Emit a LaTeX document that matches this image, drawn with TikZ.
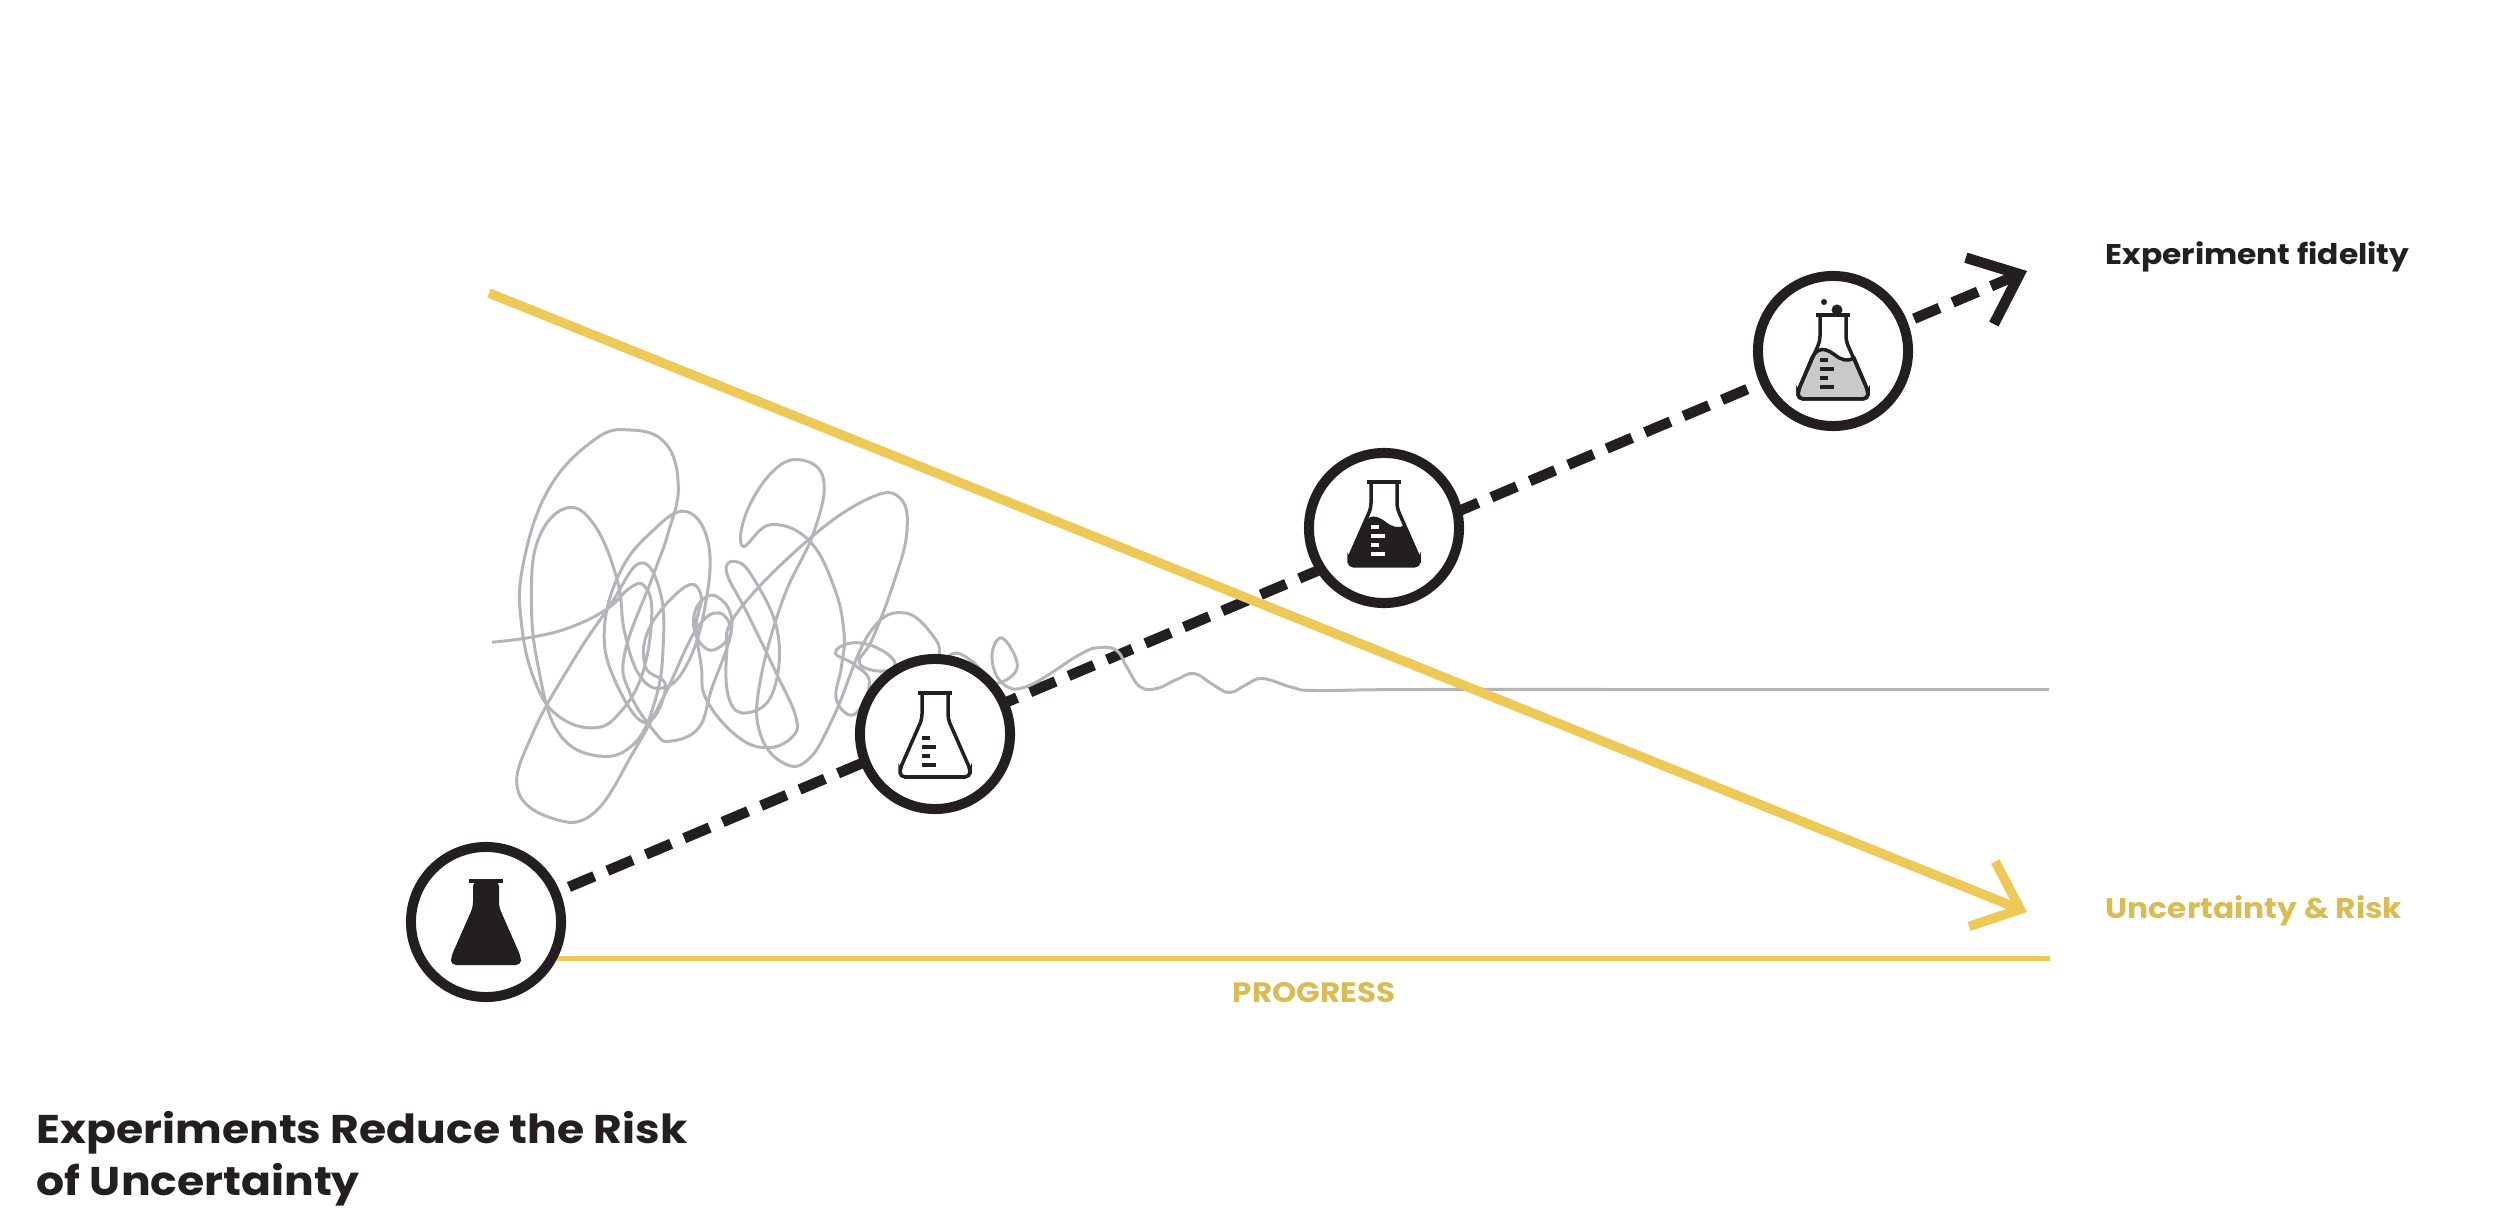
\documentclass[tikz,border=0pt]{standalone}
\usepackage{fontspec}
\setmainfont{Poppins}[FakeStretch=1.1]
\usepackage{xcolor}
\usetikzlibrary{arrows.meta,backgrounds}

\definecolor{inkblack}{HTML}{231F20}
\definecolor{riskyellow}{HTML}{EFC958}
\definecolor{labelyellow}{HTML}{DABC55}
\definecolor{scribblegray}{HTML}{B4B5BA}
\definecolor{liquidgray}{HTML}{C9C9C9}

\newcommand{\flaskbody}{[rounded corners=0.05cm] (-13,0) -- (-13,26) -- (-35,76) -- (-35,84) -- (35,84) -- (35,76) -- (13,26) -- (13,0)}
\newcommand{\flaskliquid}{(-19,38) .. controls (-10,33) and (-5,35) .. (2,40) .. controls (8,45) and (15,47) .. (21,43) [rounded corners=0.05cm] -- (35,76) -- (35,84) -- (-35,84) -- (-35,76) -- cycle}

\tikzset{
  flaskcircle/.style={circle,draw=inkblack,line width=0.1cm,fill=white,minimum size=1.5cm,inner sep=0pt},
  flaskline/.style={draw=inkblack,line width=0.035cm},
  flaskrim/.pic={\draw[inkblack,line width=0.045cm] (-17,0) -- (17,0);},
  flaskmarks/.pic={
    \draw[#1,line width=0.04cm] (-13,45) -- (-5,45);
    \draw[#1,line width=0.04cm] (-13,54) -- (1,54);
    \draw[#1,line width=0.04cm] (-13,63) -- (-5,63);
    \draw[#1,line width=0.04cm] (-13,72) -- (1,72);
  },
  smalllabel/.style={font=\bfseries\fontsize{8.1}{10}\selectfont,anchor=base west,inner sep=0pt},
  titlelabel/.style={font=\bfseries\fontsize{11.4}{14.8}\selectfont,anchor=base west,inner sep=0pt}
}

\begin{document}
\begin{tikzpicture}[x=0.01cm,y=-0.01cm]
\useasboundingbox (0,0) rectangle (2500,1231);

% the scribble, read off in its own scale
\begin{scope}[shift={(380,400)},x=0.005102cm,y=-0.003333cm]
\draw[scribblegray,line width=0.03cm] plot[smooth,tension=0.7] coordinates {
(220,728) (300,712) (375,682) (445,628) (490,565) (518,558) (533,640) (515,820) (470,940) (420,985)
(350,950) (305,850) (278,680) (280,500) (330,270) (420,120) (490,90) (560,130) (585,260) (565,400)
(535,530) (480,760) (490,880) (540,1000) (570,1025) (625,985) (650,870) (690,680) (660,590) (622,620)
(618,700) (650,752) (688,700) (665,640) (620,690) (560,880) (500,1050) (420,1240) (340,1258) (270,1170)
(300,1000) (380,780) (450,620) (510,490) (550,580) (555,750) (540,900) (500,1030) (430,1070) (350,1000)
(310,800) (297,600) (310,420) (365,325) (420,375) (465,540) (480,700) (510,830) (555,865) (600,800)
(635,640) (645,440) (600,335) (530,400) (470,520) (440,690) (460,840) (520,970) (560,860) (520,800)
(530,680) (600,560) (630,590) (620,680) (630,800) (640,900) (700,1010) (760,1045) (810,1010) (815,950)
(780,830) (720,640) (680,520) (695,485) (730,530) (780,700) (770,880) (720,940) (685,900) (680,760)
(700,640) (840,420) (960,295) (1020,295) (1033,400) (1005,560) (965,720) (940,790) (985,815) (1010,790)
(975,745) (925,730) (893,760) (930,795) (960,850) (930,945) (895,900) (905,800) (910,700) (890,560)
(840,420) (765,375) (712,440) (718,340) (770,215) (825,180) (870,240) (850,400) (790,600) (745,850)
(745,1000) (790,1090) (840,1080) (890,950) (960,700) (1030,640) (1090,720) (1100,780) (1130,760) (1165,790)
(1190,830) (1215,850) (1250,800) (1220,715) (1200,770) (1220,850) (1270,860) (1372,765) (1411,744) (1445,753)
(1464,801) (1490,861) (1523,867) (1562,840) (1597,822) (1633,855) (1666,879) (1699,855) (1731,837) (1790,864)
(1837,873) (2025,870) (2587,870) (3273,870)};
\end{scope}

\node[flaskcircle] (flaskA) at (486,922) {};
\node[flaskcircle] (flaskB) at (935,734) {};
\node[flaskcircle] (flaskC) at (1384,528) {};
\node[flaskcircle] (flaskD) at (1833,351) {};

\coordinate (fidelityTip) at (2027,271);
\coordinate (riskStart) at (489,293);
\coordinate (riskTip) at (2027,912);
\coordinate (progressEnd) at (2050,959);

\begin{scope}[shift={(486,881)}]
\fill[inkblack] \flaskbody -- cycle;
\pic {flaskrim};
\end{scope}
\begin{scope}[shift={(935,693)}]
\draw[flaskline] \flaskbody;
\pic {flaskrim};
\pic {flaskmarks=inkblack};
\end{scope}
\begin{scope}[shift={(1384,482)}]
\fill[inkblack] \flaskliquid;
\draw[flaskline] \flaskbody;
\pic {flaskrim};
\pic {flaskmarks=white};
\end{scope}
\begin{scope}[shift={(1833,315)}]
\fill[liquidgray] \flaskliquid;
\draw[flaskline] \flaskliquid;
\draw[flaskline] \flaskbody;
\pic {flaskrim};
\pic {flaskmarks=inkblack};
\fill[inkblack] (4,-5) circle (0.055cm);
\fill[inkblack] (-9,-13) circle (0.03cm);
\end{scope}

\begin{pgfonlayer}{background}
\draw[riskyellow,line width=0.055cm] (flaskA.-27.5) -- (flaskA.-27.5 -| progressEnd);
\draw[inkblack,line width=0.105cm,dash pattern=on 0.275cm off 0.142cm,shorten <=0.1cm,-{Straight Barb[length=0.43cm,width=0.72cm]}] (flaskA) -- (fidelityTip);
\end{pgfonlayer}
\draw[riskyellow,line width=0.095cm,-{Straight Barb[length=0.41cm,width=0.7cm]}] (riskStart) -- (riskTip);

\node[smalllabel,text=inkblack] (fidelityLabel) at (2105,265) {Experiment fidelity};
\node[smalllabel,text=labelyellow] (riskLabel) at (2105,918) {Uncertainty \& Risk};
\node[smalllabel,text=labelyellow,font=\bfseries\fontsize{8}{9}\selectfont] (progressLabel) at (1232,1002) {PROGRESS};
\node[titlelabel,text=inkblack] (titleLineA) at (36,1143) {Experiments Reduce the Risk};
\node[titlelabel,text=inkblack] (titleLineB) at (36,1195) {of Uncertainty};
\end{tikzpicture}
\end{document}
